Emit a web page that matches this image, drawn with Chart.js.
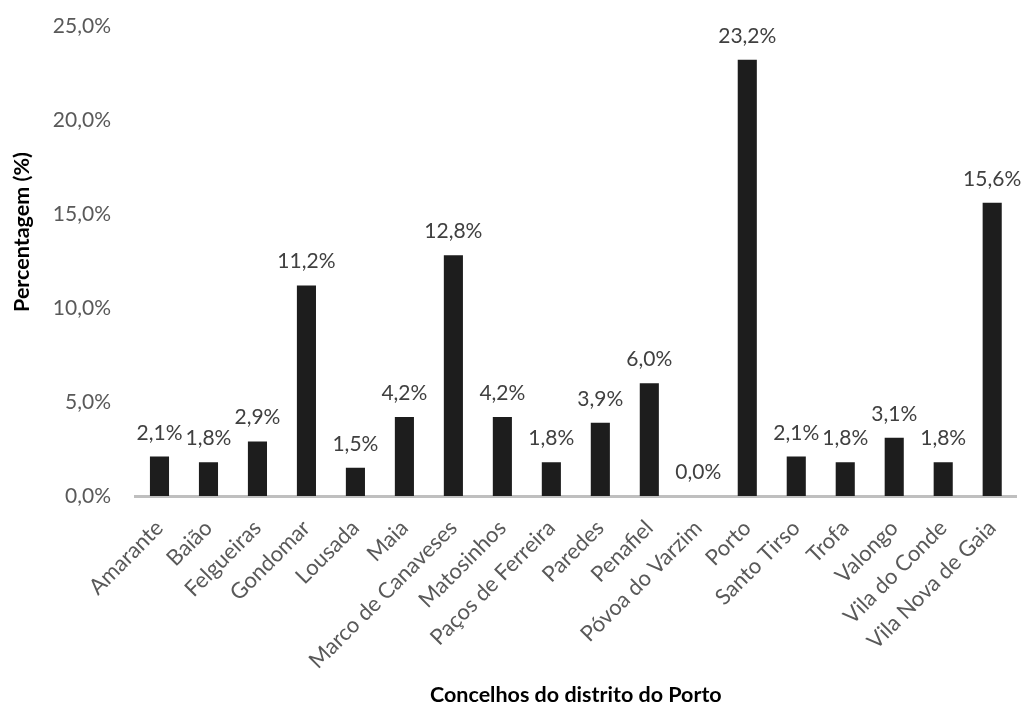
<!DOCTYPE html>
<html>
<head>
<meta charset="utf-8">
<script src="https://cdn.jsdelivr.net/npm/chart.js@4/dist/chart.umd.min.js"></script>
<style>
  html, body { margin: 0; padding: 0; background: #fff; }
  #wrap { width: 1022px; height: 709px; }
</style>
</head>
<body>
<div id="wrap"><canvas id="chart" width="1022" height="709"></canvas></div>
<script>
// Data
const concelhos = ["Amarante", "Baião", "Felgueiras", "Gondomar", "Lousada", "Maia", "Marco de Canaveses",
  "Matosinhos", "Paços de Ferreira", "Paredes", "Penafiel", "Póvoa do Varzim", "Porto", "Santo Tirso",
  "Trofa", "Valongo", "Vila do Conde", "Vila Nova de Gaia"];
const percentagens = [2.1, 1.8, 2.9, 11.2, 1.5, 4.2, 12.8, 4.2, 1.8, 3.9, 6.0, 0.0, 23.2, 2.1, 1.8, 3.1, 1.8, 15.6];
const yTitle = "Percentagem (%)";
const xTitle = "Concelhos do distrito do Porto";

const FONT = "Lato, 'Noto Sans', sans-serif";
let fmt = (v) => v.toFixed(1).replace(".", ",") + "%";

// Labels above the bars (no datalabels plugin available offline)
const valueLabels = {
  id: "valueLabels",
  afterDatasetsDraw(chart) {
    const ctx = chart.ctx;
    const meta = chart.getDatasetMeta(0);
    ctx.save();
    ctx.font = `21px ${FONT}`;
    ctx.fillStyle = "#404040";
    ctx.textAlign = "center";
    ctx.textBaseline = "alphabetic";
    meta.data.forEach((bar, i) => {
      ctx.fillText(fmt(percentagens[i]), bar.x, bar.y - 17);
    });
    ctx.restore();
  }
};

// Vertical axis title, placed like the original (a bit above the middle)
const yAxisTitle = {
  id: "yAxisTitle",
  afterDraw(chart) {
    const ctx = chart.ctx;
    ctx.save();
    ctx.translate(22, 232);
    ctx.rotate(-Math.PI / 2);
    ctx.font = `bold 21.5px ${FONT}`;
    ctx.fillStyle = "#000";
    ctx.textAlign = "center";
    ctx.textBaseline = "middle";
    ctx.fillText(yTitle, 0, 0);
    ctx.restore();
  }
};

new Chart(document.getElementById("chart"), {
  type: "bar",
  data: {
    labels: concelhos,
    datasets: [{
      data: percentagens,
      backgroundColor: "#1d1d1d",
      barPercentage: 0.39,
      categoryPercentage: 1.0
    }]
  },
  options: {
    responsive: false,
    animation: false,
    layout: { padding: { top: 26, right: 5, left: 0, bottom: 0 } },
    plugins: { legend: { display: false }, tooltip: { enabled: false } },
    scales: {
      x: {
        grid: { display: false },
        border: { display: true, color: "#bfbfbf", width: 3 },
        ticks: {
          color: "#595959",
          font: { family: FONT, size: 22 },
          minRotation: 45,
          maxRotation: 45,
          autoSkip: false,
          padding: 11
        },
        title: {
          display: true,
          text: xTitle,
          color: "#000",
          font: { family: FONT, size: 21.5, weight: "bold" },
          padding: { top: 0, bottom: 1 }
        },
        afterFit: (scale) => { scale.height = 213; }
      },
      y: {
        min: 0,
        max: 25,
        grid: { display: false, drawTicks: false },
        border: { display: false },
        ticks: {
          stepSize: 5,
          color: "#595959",
          font: { family: FONT, size: 21 },
          padding: 24,
          callback: (v) => fmt(v)
        },
        afterFit: (scale) => {
          scale.width = 135;
          // tick padding would otherwise push the plot area down
          scale.paddingTop = 0;
          scale.paddingBottom = 0;
        }
      }
    }
  },
  plugins: [valueLabels, yAxisTitle]
});
</script>
</body>
</html>
